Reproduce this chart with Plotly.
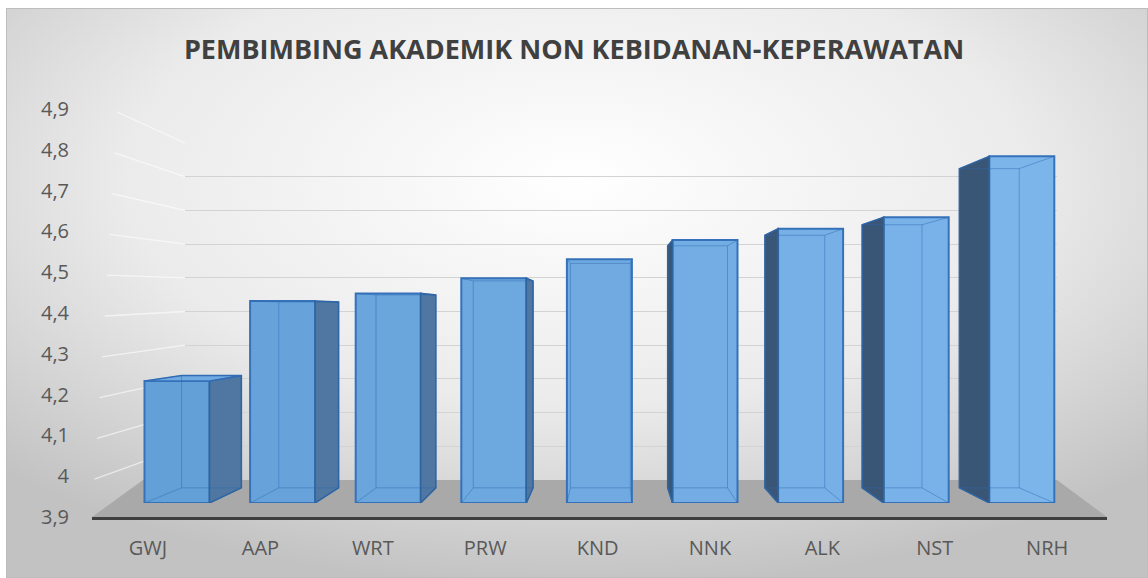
import base64
import numpy as np
import plotly.graph_objects as go

# ---------------- data ----------------
categories = ["GWJ", "AAP", "WRT", "PRW", "KND", "NNK", "ALK", "NST", "NRH"]
values = [4.22, 4.43, 4.45, 4.49, 4.54, 4.59, 4.62, 4.65, 4.81]
y_min, y_max, y_step = 3.9, 4.9, 0.1
title_text = "PEMBIMBING AKADEMIK NON KEBIDANAN-KEPERAWATAN"

# ---------------- geometry / style ----------------
W, H = 1148, 578
def fx(px): return px / W
def fy(py): return 1 - py / H

idx = np.arange(len(categories))
n = len(categories)

# bar subplot (front faces of the 3-D columns)
BAR_X0, BAR_DX = 177.0, 105.6          # px of first bar centre, px per category
BAR_Y0, BAR_Y1 = 503.0, 122.0          # px of y_min, y_max at the bar plane
BAR_W = 0.6155                          # width in category units
T = 0.0793                              # depth factor (perspective)
VP_X = (611.6 - BAR_X0) / BAR_DX        # vanishing point in data units
VP_Y = y_min + (BAR_Y0 - 312.0) / (BAR_Y0 - BAR_Y1) * (y_max - y_min)

# label plane (front edge of the floor)
LAB_X0, LAB_DX = 148.0, 112.4
FRONT_L, FRONT_R, FRONT_Y = 92.0, 1107.0, 517.0
FRONT_TOP = 109.0
# back wall
BACK_L, BACK_R, BACK_Y0, BACK_Y1 = 185.0, 1057.0, 480.0, 143.0

font_family = "Open Sans, Lato, DejaVu Sans, sans-serif"

# ---------------- background (radial gradient) ----------------
bw, bh = W - 6, H - 8
svg = (f"<svg xmlns='http://www.w3.org/2000/svg' width='{bw}' height='{bh}'>"
       "<defs><radialGradient id='g' cx='0.5' cy='0.3' r='0.72'>"
       "<stop offset='0' stop-color='#ffffff'/>"
       "<stop offset='0.55' stop-color='#ebebeb'/>"
       "<stop offset='1' stop-color='#c2c2c2'/></radialGradient></defs>"
       f"<rect x='0' y='0' width='{bw}' height='{bh}' fill='url(#g)' stroke='#bdbdbd' stroke-width='2'/></svg>")
bg_src = "data:image/svg+xml;base64," + base64.b64encode(svg.encode()).decode()

fig = go.Figure()

# subplot A: back wall gridlines
fig.add_trace(go.Scatter(x=[None], y=[None], xaxis="x", yaxis="y",
                         showlegend=False, hoverinfo="skip"))
# subplot B: front axis labels
fig.add_trace(go.Scatter(x=[None], y=[None], xaxis="x2", yaxis="y2",
                         showlegend=False, hoverinfo="skip"))

# subplot C: bars
def lerp_color(c1, c2, f):
    a = np.array([int(c1[i:i + 2], 16) for i in (1, 3, 5)])
    b = np.array([int(c2[i:i + 2], 16) for i in (1, 3, 5)])
    c = (a + (b - a) * f).round().astype(int)
    return "rgb(%d,%d,%d)" % tuple(c)

front_colors = [lerp_color("#64a0d8", "#7cb5ea", i / (n - 1)) for i in idx]

fig.add_trace(go.Bar(
    x=idx, y=[v - y_min for v in values], base=y_min, width=BAR_W,
    marker=dict(color=front_colors, line=dict(color="#3572ba", width=2)),
    xaxis="x3", yaxis="y3", showlegend=False,
    customdata=values, hovertext=categories,
    hovertemplate="%{hovertext}: %{customdata}<extra></extra>",
))

def back(px_, py_):
    return px_ + T * (VP_X - px_), py_ + T * (VP_Y - py_)

wire_x, wire_y = [], []
for i, v in zip(idx, values):
    xl, xr = i - BAR_W / 2, i + BAR_W / 2
    xlb, vb = back(xl, v)
    xrb, bb = back(xr, y_min)
    # side face
    if xrb > xr:
        sx = [xr, xr, xrb, xrb, xr]
        sy = [y_min, v, vb, bb, y_min]
        scol = "#4f77a1"
    else:
        sx = [xl, xl, xlb, xlb, xl]
        sy = [y_min, v, vb, bb, y_min]
        scol = "#3a5676"
    if xrb > xr or xlb < xl:
        fig.add_trace(go.Scatter(x=sx, y=sy, mode="lines", fill="toself",
                                 fillcolor=scol, line=dict(color="#2f64a0", width=1.5),
                                 xaxis="x3", yaxis="y3", showlegend=False,
                                 hoverinfo="skip"))
    # top face (visible when the back top is higher than the front top)
    if vb > v:
        fig.add_trace(go.Scatter(x=[xl, xr, xrb, xlb, xl], y=[v, v, vb, vb, v],
                                 mode="lines", fill="toself",
                                 fillcolor=lerp_color("#70aae0", "#86bcef", i / (n - 1)),
                                 line=dict(color="#3572ba", width=1.5),
                                 xaxis="x3", yaxis="y3", showlegend=False,
                                 hoverinfo="skip"))
    # see-through back edges
    wire_x += [xlb, xrb, xrb, xlb, xlb, None, xl, xlb, None, xr, xrb, None,
               xl, xlb, None, xr, xrb, None]
    wire_y += [bb, bb, vb, vb, bb, None, y_min, bb, None, y_min, bb, None,
               v, vb, None, v, vb, None]

fig.add_trace(go.Scatter(x=wire_x, y=wire_y, mode="lines",
                         line=dict(color="rgba(45,105,175,0.45)", width=1),
                         xaxis="x3", yaxis="y3", showlegend=False, hoverinfo="skip"))

# ---------------- decorative 3-D frame ----------------
shapes = [
    dict(type="path", xref="paper", yref="paper", layer="below",
         path=(f"M {fx(FRONT_L)} {fy(FRONT_Y)} L {fx(FRONT_R)} {fy(FRONT_Y)} "
               f"L {fx(BACK_R)} {fy(BACK_Y0)} L {fx(143)} {fy(BACK_Y0)} Z"),
         fillcolor="#a9a9a9", line=dict(width=0)),
]
ticks = np.round(np.arange(y_min + y_step, y_max + y_step / 2, y_step), 2)
for tv in ticks:
    f = (tv - y_min) / (y_max - y_min)
    xf = FRONT_L + 25 * f
    yf = FRONT_Y - (FRONT_Y - FRONT_TOP) * f + 3
    yb = BACK_Y0 - (BACK_Y0 - BACK_Y1) * f
    shapes.append(dict(type="line", xref="paper", yref="paper", layer="below",
                       x0=fx(xf), y0=fy(yf), x1=fx(BACK_L), y1=fy(yb),
                       line=dict(color="rgba(255,255,255,0.6)", width=1.3)))

fig.update_layout(
    width=W, height=H,
    margin=dict(l=0, r=0, t=0, b=0, pad=0, autoexpand=False),
    paper_bgcolor="white", plot_bgcolor="rgba(0,0,0,0)",
    separators=", ",
    showlegend=False,
    images=[dict(source=bg_src, xref="paper", yref="paper",
                 x=fx(6), y=fy(8), sizex=fx(W) - fx(6), sizey=fy(8) - fy(H),
                 xanchor="left", yanchor="top", sizing="stretch", layer="below")],
    shapes=shapes,
    title=dict(text=title_text, x=0.5, xanchor="center", xref="container",
               y=fy(50), yanchor="middle", yref="container", automargin=False,
               font=dict(family=font_family, size=27, color="#404040", weight="bold")),
    # A: back wall
    xaxis=dict(domain=[fx(BACK_L), fx(BACK_R)], range=[0, 1], visible=False,
               anchor="y", fixedrange=True, automargin=False),
    yaxis=dict(domain=[fy(BACK_Y0), fy(BACK_Y1)], range=[y_min, y_max + 1e-6],
               tick0=y_min, dtick=y_step, showgrid=True, gridcolor="#d3d3d3",
               gridwidth=1.3, showticklabels=False, zeroline=False, showline=False,
               ticks="", anchor="x", fixedrange=True, automargin=False),
    # B: front labels
    xaxis2=dict(domain=[fx(FRONT_L), fx(FRONT_R)],
                range=[(FRONT_L - LAB_X0) / LAB_DX, (FRONT_R - LAB_X0) / LAB_DX],
                tickmode="array", tickvals=idx, ticktext=categories,
                showgrid=False, zeroline=False, showline=True, linecolor="#3f3f3f",
                linewidth=3, ticks="outside", ticklen=11, tickcolor="rgba(0,0,0,0)",
                tickfont=dict(family=font_family, size=20, color="#595959"),
                anchor="y2", fixedrange=True, automargin=False),
    yaxis2=dict(domain=[fy(FRONT_Y), fy(FRONT_TOP)], range=[y_min, y_max + 1e-6],
                tick0=y_min, dtick=y_step, showgrid=False, zeroline=False,
                showline=False, ticks="", anchor="free", position=fx(69),
                tickfont=dict(family=font_family, size=20, color="#595959"),
                fixedrange=True, automargin=False),
    # C: bars
    xaxis3=dict(domain=[0, 1],
                range=[-BAR_X0 / BAR_DX, (W - BAR_X0) / BAR_DX],
                visible=False, anchor="y3", fixedrange=True, automargin=False),
    yaxis3=dict(domain=[fy(BAR_Y0), fy(BAR_Y1)], range=[y_min, y_max],
                visible=False, anchor="x3", fixedrange=True, automargin=False),
)

fig.write_html(
    "out.html",
    config={"displayModeBar": False},
    post_script="document.body.style.margin='0';document.body.style.padding='0';"
                "document.body.style.overflow='hidden';",
)
